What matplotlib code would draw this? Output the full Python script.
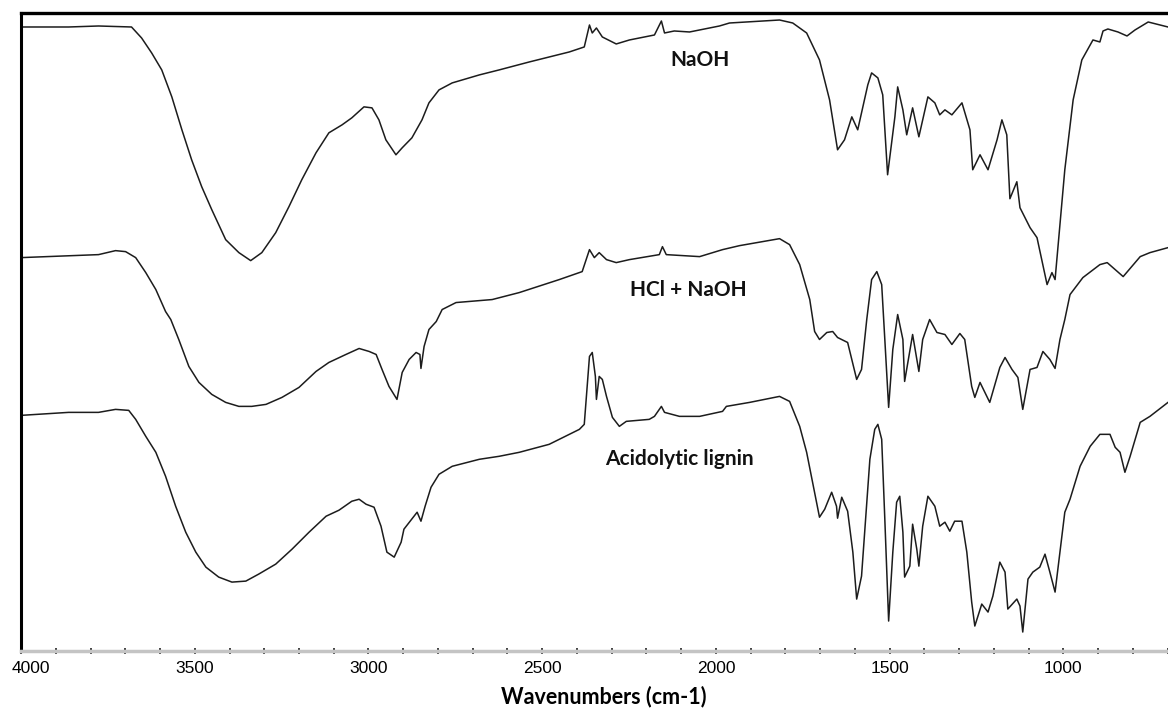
import matplotlib
matplotlib.use("Agg")
import matplotlib.pyplot as plt
import matplotlib.transforms as mtransforms
from matplotlib.ticker import MultipleLocator

# FTIR spectra, wavenumber (cm-1) vs transmittance (a.u., stacked)
naoh_wn = [4000, 3863, 3777, 3682, 3653, 3624, 3595, 3566, 3537, 3509, 3480, 3451,
           3411, 3373, 3339, 3307, 3267, 3229, 3192, 3151, 3114, 3076, 3048, 3013,
           2990, 2970, 2950, 2921, 2903, 2875, 2846, 2826, 2797, 2759, 2681, 2624,
           2537, 2422, 2379, 2364, 2356, 2344, 2327, 2287, 2249, 2177, 2157, 2148,
           2120, 2076, 1990, 1961, 1817, 1779, 1739, 1702, 1673, 1650, 1630, 1609,
           1592, 1563, 1552, 1534, 1520, 1506, 1485, 1477, 1462, 1451, 1434, 1416,
           1390, 1370, 1356, 1341, 1321, 1292, 1269, 1261, 1240, 1217, 1191, 1177,
           1163, 1154, 1134, 1125, 1096, 1076, 1047, 1033, 1024, 996, 972, 947,
           915, 895, 886, 872, 843, 817, 794, 756, 699]
naoh_t = [625, 625, 626, 625, 614, 599, 582, 555, 522, 492, 465, 442,
          412, 399, 391, 399, 419, 445, 472, 499, 519, 527, 534, 545,
          544, 532, 512, 497, 504, 514, 532, 549, 562, 569, 577, 582,
          590, 600, 605, 627, 619, 624, 615, 608, 612, 617, 631, 619,
          621, 620, 626, 629, 632, 629, 619, 592, 552, 502, 512, 535,
          522, 567, 579, 574, 557, 477, 535, 565, 542, 517, 544, 515,
          555, 549, 537, 542, 537, 549, 522, 482, 497, 482, 512, 532,
          517, 453, 470, 444, 424, 414, 367, 379, 372, 482, 552, 592,
          612, 610, 621, 623, 620, 616, 622, 630, 625]

hcl_wn = [4000, 3777, 3728, 3699, 3670, 3641, 3612, 3584, 3569, 3546, 3517, 3488,
          3451, 3411, 3373, 3336, 3295, 3249, 3200, 3151, 3114, 3065, 3027, 2998,
          2978, 2961, 2941, 2918, 2903, 2883, 2863, 2852, 2849, 2840, 2826, 2805,
          2788, 2748, 2644, 2566, 2451, 2385, 2364, 2350, 2336, 2315, 2287, 2249,
          2163, 2154, 2143, 2047, 1981, 1932, 1817, 1788, 1759, 1730, 1716, 1702,
          1681, 1664, 1650, 1621, 1595, 1581, 1566, 1552, 1537, 1523, 1514, 1503,
          1491, 1477, 1462, 1457, 1434, 1416, 1405, 1385, 1364, 1341, 1321, 1298,
          1284, 1264, 1255, 1240, 1212, 1183, 1168, 1148, 1131, 1117, 1096, 1076,
          1059, 1039, 1024, 1010, 996, 981, 944, 895, 874, 828, 779, 751, 699]
hcl_t = [394, 397, 401, 400, 394, 379, 362, 340, 332, 312, 285, 269,
         257, 249, 245, 245, 247, 254, 264, 280, 289, 297, 303, 300,
         297, 282, 265, 252, 279, 292, 299, 297, 283, 305, 322, 330,
         342, 349, 352, 359, 372, 380, 402, 394, 399, 392, 389, 392,
         397, 405, 397, 395, 402, 406, 413, 407, 387, 352, 320, 312,
         319, 320, 314, 309, 272, 282, 332, 372, 380, 367, 312, 244,
         302, 337, 312, 270, 317, 280, 312, 332, 319, 317, 307, 318,
         312, 265, 254, 269, 249, 284, 294, 282, 274, 242, 282, 284,
         300, 292, 283, 312, 332, 357, 374, 387, 389, 375, 395, 399, 404]

acid_wn = [4000, 3863, 3777, 3728, 3690, 3670, 3641, 3612, 3584, 3555, 3526, 3497,
           3468, 3431, 3393, 3353, 3316, 3267, 3220, 3171, 3122, 3085, 3048, 3027,
           3007, 2984, 2964, 2947, 2926, 2906, 2898, 2869, 2860, 2849, 2837, 2820,
           2797, 2759, 2681, 2624, 2566, 2480, 2393, 2379, 2364, 2356, 2347, 2344,
           2336, 2327, 2315, 2298, 2278, 2258, 2192, 2177, 2157, 2148, 2105, 2047,
           1981, 1970, 1903, 1817, 1788, 1759, 1739, 1722, 1702, 1687, 1667, 1653,
           1650, 1638, 1621, 1606, 1595, 1581, 1566, 1557, 1543, 1534, 1523, 1514,
           1503, 1491, 1480, 1471, 1462, 1457, 1442, 1434, 1422, 1416, 1405, 1390,
           1370, 1356, 1341, 1327, 1313, 1292, 1278, 1264, 1255, 1235, 1217, 1203,
           1183, 1168, 1160, 1134, 1125, 1117, 1102, 1088, 1068, 1053, 1039, 1024,
           1010, 996, 981, 952, 923, 895, 866, 851, 837, 823, 808, 779, 751, 699]
acid_t = [236, 239, 239, 242, 241, 232, 215, 199, 175, 145, 119, 99,
          84, 74, 69, 70, 77, 87, 102, 119, 135, 141, 150, 152,
          147, 144, 125, 99, 94, 109, 122, 135, 139, 130, 145, 164,
          177, 185, 192, 195, 199, 207, 222, 227, 295, 299, 275, 252,
          275, 272, 255, 234, 225, 230, 232, 235, 245, 239, 235, 235,
          240, 245, 249, 255, 250, 225, 199, 169, 134, 142, 159, 145,
          133, 154, 140, 99, 52, 75, 149, 192, 222, 227, 212, 132,
          30, 99, 149, 155, 119, 74, 85, 127, 102, 85, 125, 155,
          145, 125, 129, 120, 130, 130, 99, 49, 25, 47, 39, 55,
          89, 79, 42, 52, 45, 19, 72, 79, 84, 97, 79, 59,
          99, 139, 152, 185, 205, 217, 217, 204, 199, 179, 195, 229, 235, 249]

series = [(naoh_wn, naoh_t), (hcl_wn, hcl_t), (acid_wn, acid_t)]
labels = ["NaOH", "HCl + NaOH", "Acidolytic lignin"]
label_pos = [(2047, 592), (2080, 362), (2105, 192)]

fig = plt.figure(figsize=(11.68, 7.11), dpi=100)
ax = fig.add_axes([0.018, 0.0844, 0.982, 0.8973])

for wn, t in series:
    ax.plot(wn, t, color="#1c1c1c", lw=1.1)

for name, (x, y) in zip(labels, label_pos):
    ax.text(x, y, name, family="Lato", fontweight="bold", fontsize=15,
            ha="center", va="center", color="#111111")

ax.set_xlim(4000, 699)
ax.set_ylim(0, 639)
ax.xaxis.set_major_locator(MultipleLocator(500))
ax.xaxis.set_minor_locator(MultipleLocator(100))
ax.set_yticks([])
ax.tick_params(axis="x", which="both", direction="inout", length=5, width=1.1,
               color="#111111", labelsize=12.5, pad=5)
fig.canvas.draw()
for lab in ax.get_xticklabels():
    lab.set_family("Liberation Sans")
    # keep the 4000 label inside the figure, as in the original
    if lab.get_text() == "4000":
        lab.set_transform(lab.get_transform() +
                          mtransforms.ScaledTranslation(0.1, 0, fig.dpi_scale_trans))

ax.spines["right"].set_visible(False)
ax.spines["left"].set_linewidth(2.2)
ax.spines["top"].set_linewidth(2.4)
ax.spines["bottom"].set_linewidth(2.5)
ax.spines["bottom"].set_color("#c4c4c4")

ax.set_xlabel("Wavenumbers (cm-1)", family="Lato", fontweight="bold",
              fontsize=15.5, labelpad=7)
ax.xaxis.label.set_x(0.508)

fig.savefig("out.png", dpi=100)
